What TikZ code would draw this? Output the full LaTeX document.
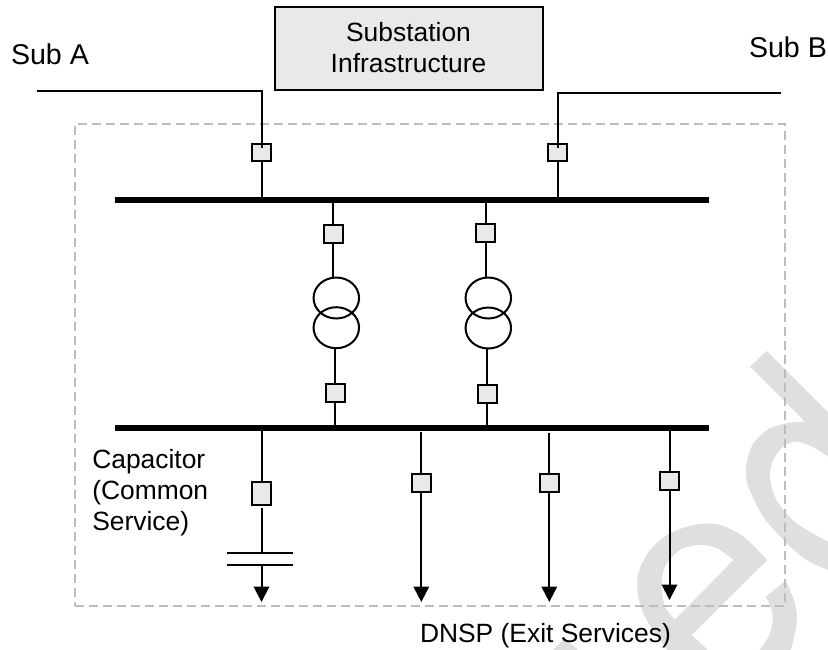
\documentclass[tikz,border=0pt]{standalone}
\usepackage{fontspec}
\setmainfont{Liberation Sans}
\usetikzlibrary{arrows.meta,shapes.geometric}
\definecolor{boxgray}{HTML}{E9E9E9}
\definecolor{markgray}{HTML}{DFDFDF}
\definecolor{dashgray}{HTML}{BDBDBD}
\tikzset{
  wire/.style={line width=2pt,black},
  plate/.style={line width=1.8pt,black},
  feed/.style={wire,-{Triangle[width=15.5pt,length=15.5pt]}},
  busbar/.style={rectangle,fill=black,inner sep=0pt,outer sep=0pt,minimum width=594.5pt,minimum height=6pt},
  sw/.style={rectangle,draw=black,fill=boxgray,line width=2pt,inner sep=0pt,outer sep=0pt,minimum width=19.2pt,minimum height=17.8pt},
  swtall/.style={sw,minimum height=23.5pt},
  winding/.style={ellipse,draw=black,line width=2pt,inner sep=0pt,outer sep=0pt,minimum width=45.5pt,minimum height=41pt},
  lbl/.style={font=\fontsize{26.4}{31}\selectfont,inner sep=0pt,outer sep=0pt,text=black},
  sublbl/.style={lbl,font=\fontsize{28.6}{31}\selectfont,anchor=base west},
  infra/.style={rectangle,draw=black,fill=boxgray,line width=2pt,inner sep=0pt,outer sep=0pt,minimum width=268pt,minimum height=83pt},
  boundary/.style={rectangle,draw=dashgray,line width=1.6pt,dash pattern=on 9pt off 5pt,inner sep=0pt,outer sep=0pt,minimum width=710pt,minimum height=482pt},
}
\begin{document}
\begin{tikzpicture}[x=1pt,y=-1pt]
\useasboundingbox (0,0) rectangle (828,649);
\fill[white] (0,0) rectangle (828,649);
% watermark
\begin{scope}
\clip (0,0) rectangle (828,649);
\begin{scope}[shift={(620,340)},x=0.3333pt,y=-0.3333pt]
% letter d
\fill[markgray] (390,80) -- (440,33) -- (660,253) -- (660,715) -- (624,690)
  -- plot[smooth] coordinates {(624,690) (560,660) (500,610) (430,530) (385,440) (378,380) (400,310) (450,265) (510,248) (555,245)} -- cycle;
\fill[white] plot[smooth] coordinates {(624,350) (580,322) (530,305) (490,320) (460,360) (450,410) (470,480) (530,550) (624,605)} -- (660,625) -- (660,370) -- cycle;
% letter e
\fill[markgray] plot[smooth] coordinates {(442,660) (370,590) (300,555) (230,553) (150,580) (90,630) (55,700) (55,770) (80,840) (140,927)} -- (140,940) -- (272,940) -- (260,927) -- (215,885) -- cycle;
\fill[white] plot[smooth] coordinates {(340,660) (290,625) (240,615) (180,630) (135,680) (125,740) (135,800) (165,838)} -- cycle;
\fill[markgray] (437,770) -- plot[smooth] coordinates {(497,722) (525,790) (530,850) (510,940)} -- plot[smooth] coordinates {(412,940) (450,880) (458,820) (437,770)} -- cycle;
\end{scope}
\fill[markgray] (551,652) -- (565,638) -- (580,652) -- cycle;
\end{scope}

\node[boundary] (frame) at (430,365) {};

\node[infra] (infra) at (408.5,48.5) {};
\node[lbl,align=center] (infratext) at (408.5,47.2) {Substation\\Infrastructure};
\node[sublbl] (suba) at (11,64) {Sub A};
\node[sublbl] (subb) at (749,57.5) {Sub B};
\node[lbl,anchor=base west] (dnsp) at (420,642.7) {DNSP (Exit Services)};
\node[lbl,anchor=north west,align=left] (cap) at (92.3,449.5) {Capacitor\\(Common\\Service)};

\node[busbar] (busa) at (412,200) {};
\node[busbar] (busb) at (412,428.3) {};

% switches
\node[sw] (swa) at (261.5,152.5) {};
\node[sw] (swb) at (557.5,152.5) {};
\node[sw] (t1u) at (333.3,234) {};
\node[sw] (t2u) at (485.5,232.8) {};
\node[sw] (t1l) at (335.3,392.7) {};
\node[sw] (t2l) at (487.3,394) {};
\node[swtall] (fc) at (261.5,493.5) {};
\node[sw] (f1) at (421.3,483) {};
\node[sw] (f2) at (549.3,483) {};
\node[sw] (f3) at (669.5,481.2) {};

% transformers
\node[winding] (t1a) at (336.3,298) {};
\node[winding] (t1b) at (336.3,327.7) {};
\node[winding] (t2a) at (488.3,298) {};
\node[winding] (t2b) at (488.3,328) {};

% incoming lines
\coordinate (aend) at (37,90.5);
\coordinate (bend) at (781,93);
\coordinate (astub) at (261.5,147.5);
\coordinate (bstub) at (557.5,148);
\draw[wire] (aend) -| (astub);
\draw[wire] (bend) -| (bstub);
\draw[wire] (swa) -- (swa |- busa.north);
\draw[wire] (swb) -- (swb |- busa.north);

% transformer connections
\draw[wire] (t1u |- busa.south) -- (t1u);
\draw[wire] (t2u |- busa.south) -- (t2u);
\draw[wire] (t1u) -- (t1u |- t1a.north);
\draw[wire] (t2u) -- (t2u |- t2a.north);
\draw[wire] (t1l |- t1b.south) -- (t1l);
\draw[wire] (t2l |- t2b.south) -- (t2l);
\draw[wire] (t1l) -- (t1l |- busb.north);
\draw[wire] (t2l) -- (t2l |- busb.north);

% capacitor feeder
\coordinate (platea) at (261.5,552.7);
\coordinate (plateb) at (261.5,565);
\coordinate (fcgap) at (261.5,508);
\coordinate (fctip) at (261.5,602);
\draw[wire] (fc |- busb.south) -- (fc);
\draw[wire] (fcgap) -- (platea);
\draw[plate] (226.7,552.7) -- (293.3,552.7);
\draw[plate] (226.7,565) -- (293.3,565);
\draw[feed] (plateb) -- (fctip);

% exit feeders
\coordinate (f1top) at (421.3,432);
\coordinate (f2top) at (549.3,432.5);
\coordinate (f1tip) at (421.3,602);
\coordinate (f2tip) at (549.3,602);
\coordinate (f3tip) at (669.5,600);
\draw[wire] (f1top) -- (f1);
\draw[wire] (f2top) -- (f2);
\draw[wire] (f3 |- busb.south) -- (f3);
\draw[feed] (f1) -- (f1tip);
\draw[feed] (f2) -- (f2tip);
\draw[feed] (f3) -- (f3tip);
\end{tikzpicture}
\end{document}
